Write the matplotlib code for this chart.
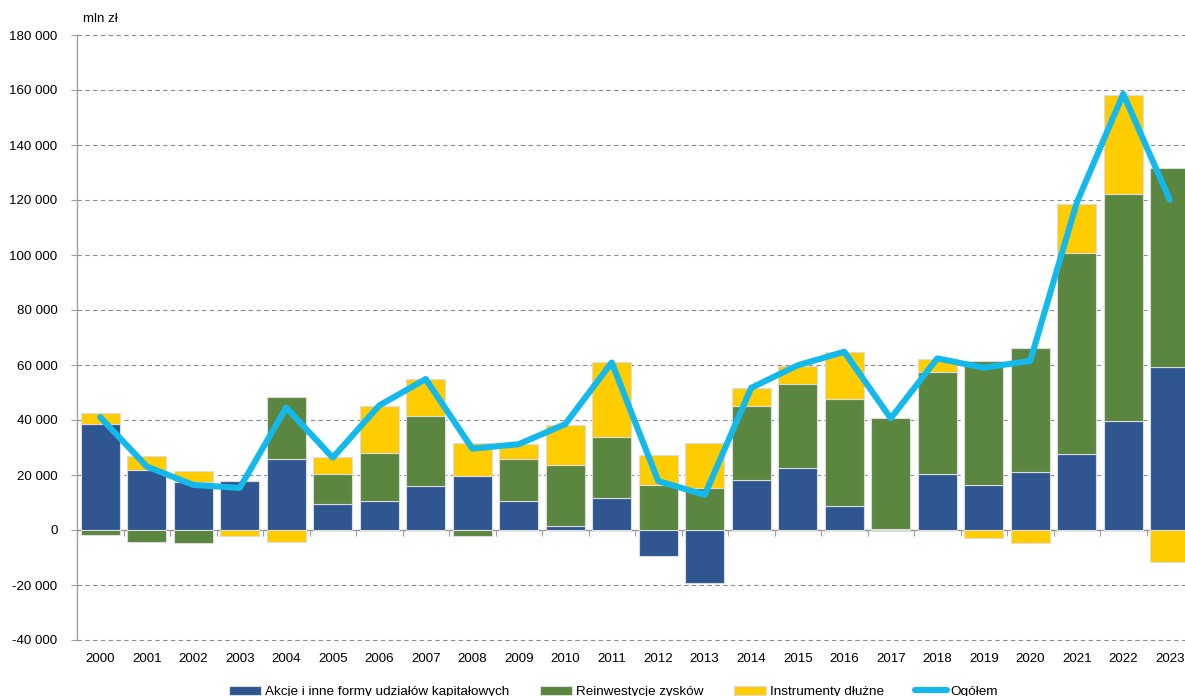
import numpy as np
import matplotlib
matplotlib.use("Agg")
import matplotlib.pyplot as plt
from matplotlib.ticker import FuncFormatter

plt.rcParams['font.family'] = ['Liberation Sans', 'DejaVu Sans']

# dane (mln zł)
years = [str(y) for y in range(2000, 2024)]
akcje = [38.7, 21.7, 17.4, 17.7, 25.8, 9.5, 10.5, 15.9, 19.8, 10.5, 1.4, 11.8,
         -9.5, -19.2, 18.1, 22.6, 8.8, 0.2, 20.4, 16.4, 21.0, 27.6, 39.6, 59.2]
reinwestycje = [-1.8, -4.2, -4.9, 0.0, 22.7, 10.9, 17.6, 25.6, -2.2, 15.4, 22.4, 22.0,
                16.5, 15.4, 27.0, 30.6, 38.9, 40.6, 37.1, 45.2, 45.2, 73.1, 82.5, 72.6]
dluzne = [4.0, 5.3, 3.9, -2.2, -4.2, 6.1, 17.1, 13.3, 11.8, 5.3, 14.5, 27.2,
          10.9, 16.3, 6.5, 6.6, 16.9, -0.3, 4.6, -2.9, -4.8, 17.8, 36.2, -11.7]
ogolem = [41.0, 23.1, 16.4, 15.3, 44.5, 26.3, 45.3, 54.9, 29.6, 31.2, 38.5, 60.9,
          17.8, 12.8, 51.7, 59.9, 64.8, 40.6, 62.4, 59.0, 61.5, 119.0, 158.6, 120.1]

series = [
    ("Akcje i inne formy udziałów kapitałowych", akcje, "#2F5690"),
    ("Reinwestycje zysków", reinwestycje, "#5B863F"),
    ("Instrumenty dłużne", dluzne, "#FFCC00"),
]
line_color = "#14B9EC"

fig = plt.figure(figsize=(11.85, 6.96), dpi=100)
ax = fig.add_axes([77 / 1185, 1 - 640 / 696, 1116 / 1185, (640 - 35) / 696])

x = np.arange(len(years))
pos_bottom = np.zeros(len(years))
neg_bottom = np.zeros(len(years))
handles = []
for label, vals, color in series:
    v = np.array(vals) * 1000
    bottom = np.where(v >= 0, pos_bottom, neg_bottom)
    b = ax.bar(x, v, 0.84, bottom=bottom, color=color, edgecolor="#DCDCDC",
               linewidth=0.8, label=label, zorder=2)
    handles.append(b)
    pos_bottom += np.where(v > 0, v, 0)
    neg_bottom += np.where(v < 0, v, 0)

ln, = ax.plot(x, np.array(ogolem) * 1000, color=line_color, linewidth=4.4,
              solid_capstyle="round", solid_joinstyle="round", label="Ogółem", zorder=3)
handles.append(ln)

ax.set_xlim(-0.5, len(years) - 0.5)
ax.set_ylim(-40000, 180000)
ax.set_yticks(np.arange(-40000, 180001, 20000))
ax.yaxis.set_major_formatter(FuncFormatter(
    lambda v, p: f"{int(v):,}".replace(",", " ")))
ax.grid(axis="y", linestyle=(0, (4, 3)), color="#8C8C8C", linewidth=0.8, zorder=0)
for gl in ax.get_ygridlines():
    gl.set_clip_on(False)

ax.set_xticks(x)
ax.set_xticklabels(years)
ax.tick_params(axis="x", length=0, pad=9, labelsize=9.6, colors="#000000")
ax.tick_params(axis="y", length=4, width=0.8, color="#A0A0A0", pad=10, labelsize=9.6)

for s in ["top", "right", "bottom"]:
    ax.spines[s].set_visible(False)
ax.spines["left"].set_color("#A0A0A0")
ax.spines["left"].set_linewidth(1.0)

# oś kategorii w zerze z kreskami na granicach
zero_pos = 40000 / 220000
sec = ax.secondary_xaxis(zero_pos)
sec.set_xticks(np.arange(-0.5, len(years), 1.0))
sec.tick_params(axis="x", length=4, width=0.8, color="#A0A0A0", labelbottom=False)
sec.spines["bottom"].set_color("#A0A0A0")
sec.spines["bottom"].set_linewidth(1.0)

fig.text(83 / 1185, 1 - 19 / 696, "mln zł", fontsize=9.6, va="center", ha="left")

labels = [h.get_label() for h in handles]
fig.legend(handles, labels, loc="center", bbox_to_anchor=(613.5 / 1185, 1 - 692 / 696),
           ncol=4, frameon=False, fontsize=9.7, handlelength=2.4, handleheight=0.6,
           handletextpad=0.25, columnspacing=2.3, borderaxespad=0)

fig.savefig("out.png", dpi=100)
